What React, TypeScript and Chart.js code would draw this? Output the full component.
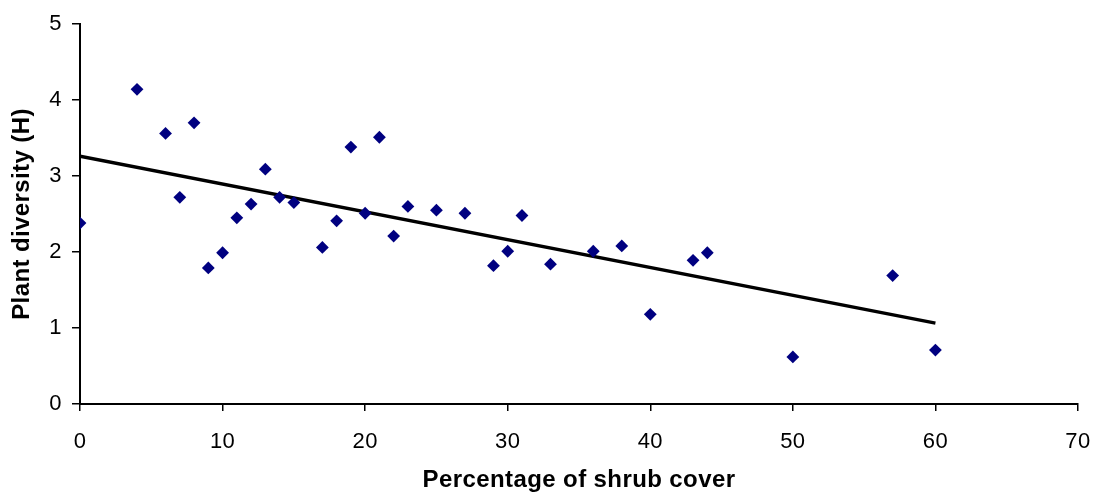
import React, { useEffect, useRef } from "react";
import { Chart, registerables } from "chart.js";

Chart.register(...registerables);

const shrubCover = [0, 4, 6, 7, 8, 9, 10, 11, 12, 13, 14, 15, 17, 18, 19, 20, 21, 22, 23, 25, 27, 29, 30, 31, 33, 36, 38, 40, 43, 44, 50, 57, 60];
const plantDiversity = [2.38, 4.14, 3.56, 2.72, 3.70, 1.79, 1.99, 2.45, 2.63, 3.09, 2.72, 2.65, 2.06, 2.41, 3.38, 2.51, 3.51, 2.21, 2.60, 2.55, 2.51, 1.82, 2.01, 2.48, 1.84, 2.01, 2.08, 1.18, 1.89, 1.99, 0.62, 1.69, 0.71];

const trendX = [0, 60];
const trendY = [3.26, 1.065];

const xTicks = [0, 10, 20, 30, 40, 50, 60, 70];
const yTicks = [0, 1, 2, 3, 4, 5];

const FONT = "'Liberation Sans', Arial, Helvetica, sans-serif";

const spacingPlugin = {
  id: "letterSpacing",
  beforeDraw(chart: any) {
    try {
      (chart.ctx as any).letterSpacing = "0.4px";
    } catch (e) {}
  },
};

export default function App() {
  const ref = useRef<HTMLCanvasElement | null>(null);

  useEffect(() => {
    document.body.style.margin = "0";
    const canvas = ref.current;
    if (!canvas) return;
    const chart = new Chart(canvas, {
      type: "scatter",
      data: {
        datasets: [
          {
            label: "Plant diversity",
            data: shrubCover.map((x, i) => ({ x, y: plantDiversity[i] })),
            pointStyle: "rectRot",
            pointRadius: 6.4,
            pointBorderWidth: 0,
            backgroundColor: "#000080",
            borderColor: "#000080",
            showLine: false,
          },
          {
            label: "Trend",
            data: trendX.map((x, i) => ({ x, y: trendY[i] })),
            showLine: true,
            pointRadius: 0,
            borderColor: "#000000",
            borderWidth: 3.3,
            backgroundColor: "#000000",
          },
        ],
      },
      plugins: [spacingPlugin],
      options: {
        responsive: false,
        animation: false,
        layout: { padding: { top: 24, right: 16, left: 0, bottom: 0 } },
        plugins: { legend: { display: false }, tooltip: { enabled: false } },
        scales: {
          x: {
            type: "linear",
            min: 0,
            max: 70,
            afterBuildTicks: (axis: any) => {
              axis.ticks = xTicks.map((v) => ({ value: v }));
            },
            afterFit: (axis: any) => {
              axis.height = 90;
              axis.paddingLeft = 0;
              axis.paddingRight = 0;
            },
            ticks: { color: "#000", font: { family: FONT, size: 22 }, padding: 18 },
            grid: { display: true, drawOnChartArea: false, drawTicks: true, tickLength: 7, color: "#000", lineWidth: 1.5 },
            border: { display: true, color: "#000", width: 2 },
            title: {
              display: true,
              text: "Percentage of shrub cover",
              color: "#000",
              font: { family: FONT, size: 24, weight: "bold" },
              padding: { top: 0, bottom: -1 },
            },
          },
          y: {
            type: "linear",
            min: 0,
            max: 5,
            afterBuildTicks: (axis: any) => {
              axis.ticks = yTicks.map((v) => ({ value: v }));
            },
            afterFit: (axis: any) => {
              axis.width = 80;
              axis.paddingTop = 0;
              axis.paddingBottom = 0;
            },
            ticks: { color: "#000", font: { family: FONT, size: 22 }, padding: 10 },
            grid: { display: true, drawOnChartArea: false, drawTicks: true, tickLength: 8, color: "#000", lineWidth: 1.5 },
            border: { display: true, color: "#000", width: 2 },
            title: {
              display: true,
              text: "Plant diversity (H)",
              color: "#000",
              font: { family: FONT, size: 24, weight: "bold" },
              padding: { top: 8, bottom: 0 },
            },
          },
        },
      },
    } as any);
    return () => chart.destroy();
  }, []);

  return (
    <div style={{ width: 1094, height: 494 }}>
      <canvas ref={ref} width={1094} height={494} />
    </div>
  );
}
